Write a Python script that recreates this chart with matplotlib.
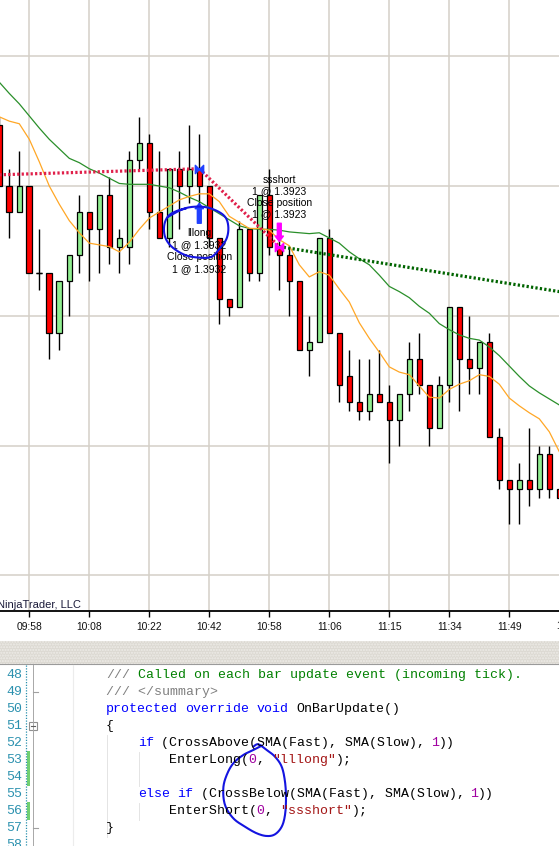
import numpy as np
import matplotlib
matplotlib.use("Agg")
import matplotlib.pyplot as plt
from matplotlib.patches import Rectangle
from matplotlib.path import Path
import matplotlib.transforms as mtransforms

W, H, DPI = 559, 846, 100

# ---------------- data ----------------
bar_index = list(range(57))
opens = [1.3937, 1.3930, 1.3927, 1.3930, 1.3920, 1.3920, 1.3913, 1.3919, 1.3922, 1.3927,
         1.3925, 1.3929, 1.3923, 1.3923, 1.3933, 1.3935, 1.3927, 1.3924, 1.3932, 1.3930,
         1.3932, 1.3930, 1.3924, 1.3917, 1.3916, 1.3925, 1.3920, 1.3929, 1.3923, 1.3922,
         1.3919, 1.3911, 1.3912, 1.3924, 1.3913, 1.3908, 1.3905, 1.3904, 1.3906, 1.3905,
         1.3903, 1.3906, 1.3910, 1.3907, 1.3902, 1.3907, 1.3916, 1.3910, 1.3909, 1.3912,
         1.3901, 1.3896, 1.3895, 1.3896, 1.3895, 1.3899, 1.3895]
highs = [1.3938, 1.3932, 1.3934, 1.3930, 1.3925, 1.3920, 1.3919, 1.3922, 1.3929, 1.3927,
         1.3929, 1.3931, 1.3925, 1.3934, 1.3938, 1.3936, 1.3934, 1.3932, 1.3934, 1.3937,
         1.3936, 1.3930, 1.3924, 1.3917, 1.3926, 1.3925, 1.3929, 1.3932, 1.3924, 1.3923,
         1.3919, 1.3915, 1.3924, 1.3925, 1.3913, 1.3911, 1.3910, 1.3910, 1.3911, 1.3907,
         1.3906, 1.3912, 1.3913, 1.3907, 1.3908, 1.3916, 1.3916, 1.3915, 1.3912, 1.3913,
         1.3902, 1.3896, 1.3898, 1.3902, 1.3900, 1.3900, 1.3895]
lows = [1.3930, 1.3924, 1.3927, 1.3920, 1.3918, 1.3910, 1.3911, 1.3915, 1.3920, 1.3919,
        1.3920, 1.3921, 1.3920, 1.3921, 1.3932, 1.3925, 1.3924, 1.3923, 1.3925, 1.3928,
        1.3928, 1.3923, 1.3914, 1.3915, 1.3916, 1.3919, 1.3919, 1.3922, 1.3918, 1.3915,
        1.3911, 1.3908, 1.3912, 1.3913, 1.3905, 1.3904, 1.3903, 1.3903, 1.3905, 1.3898,
        1.3900, 1.3904, 1.3906, 1.3900, 1.3902, 1.3905, 1.3904, 1.3906, 1.3906, 1.3901,
        1.3895, 1.3891, 1.3891, 1.3893, 1.3894, 1.3894, 1.3894]
closes = [1.3930, 1.3927, 1.3930, 1.3920, 1.3920, 1.3913, 1.3919, 1.3922, 1.3927, 1.3925,
          1.3929, 1.3923, 1.3924, 1.3933, 1.3935, 1.3927, 1.3924, 1.3932, 1.3930, 1.3932,
          1.3930, 1.3924, 1.3917, 1.3916, 1.3925, 1.3920, 1.3929, 1.3923, 1.3922, 1.3919,
          1.3911, 1.3912, 1.3924, 1.3913, 1.3907, 1.3905, 1.3904, 1.3906, 1.3905, 1.3903,
          1.3906, 1.3910, 1.3907, 1.3902, 1.3907, 1.3916, 1.3910, 1.3909, 1.3912, 1.3901,
          1.3896, 1.3895, 1.3896, 1.3895, 1.3899, 1.3895, 1.3894]
sma_fast = [1.39380, 1.39375, 1.39372, 1.39354, 1.39328, 1.39300, 1.39279, 1.39260, 1.39246, 1.39234,
            1.39232, 1.39230, 1.39224, 1.39235, 1.39250, 1.39263, 1.39270, 1.39277, 1.39284, 1.39288,
            1.39291, 1.39291, 1.39282, 1.39265, 1.39258, 1.39251, 1.39251, 1.39249, 1.39238, 1.39231,
            1.39209, 1.39195, 1.39201, 1.39197, 1.39181, 1.39166, 1.39142, 1.39124, 1.39108, 1.39091,
            1.39085, 1.39082, 1.39069, 1.39056, 1.39055, 1.39065, 1.39071, 1.39075, 1.39082, 1.39080,
            1.39071, 1.39055, 1.39046, 1.39038, 1.39031, 1.39016, 1.38993]
sma_slow = [1.39420, 1.39407, 1.39395, 1.39381, 1.39367, 1.39354, 1.39343, 1.39332, 1.39327, 1.39320,
            1.39315, 1.39309, 1.39303, 1.39302, 1.39302, 1.39302, 1.39300, 1.39298, 1.39293, 1.39287,
            1.39282, 1.39275, 1.39268, 1.39261, 1.39254, 1.39251, 1.39250, 1.39250, 1.39249, 1.39247,
            1.39246, 1.39245, 1.39246, 1.39240, 1.39234, 1.39224, 1.39216, 1.39209, 1.39197, 1.39184,
            1.39178, 1.39171, 1.39161, 1.39153, 1.39141, 1.39134, 1.39128, 1.39124, 1.39122, 1.39114,
            1.39104, 1.39092, 1.39080, 1.39069, 1.39061, 1.39054, 1.39047]
time_ticks = [3, 9, 15, 21, 27, 33, 39, 45, 51, 57]
time_labels = ["09:58", "10:08", "10:22", "10:42", "10:58", "11:06", "11:15", "11:34", "11:49", "12:04"]
price_grid = [1.3945, 1.3930, 1.3915, 1.3900, 1.3885]

prev_exit_x, prev_exit_y = [0, 20], [1.39313, 1.3932]
long_x, long_y = [20, 28], [1.3932, 1.3923]
short_x, short_y = [28, 56], [1.3923, 1.39178]
long_name, long_price, long_bar = "lllong", 1.3932, 20
short_name, short_price, short_bar = "ssshort", 1.3923, 28

# ---------------- figure ----------------
fig = plt.figure(figsize=(W / DPI, H / DPI), dpi=DPI)
fig.patch.set_facecolor("white")
CHART_BOTTOM = 611
ax = fig.add_axes([0, 1 - CHART_BOTTOM / H, 1, CHART_BOTTOM / H])
ax.set_facecolor("white")
ax.set_xlim(0.07, 55.97)
ax.set_ylim(1.388089, 1.39515)
for s in ["top", "left", "right"]:
    ax.spines[s].set_visible(False)
ax.spines["bottom"].set_color("black")
ax.spines["bottom"].set_linewidth(1.3)
ax.set_yticks([])
ax.set_xticks(time_ticks[:-1])
ax.set_xticklabels(time_labels[:-1], fontsize=7.4, family="Liberation Sans", color="#111111")
ax.tick_params(axis="x", length=4.3, width=1.0, direction="out", pad=3.5, colors="black")
for lbl in ax.get_xticklabels():
    lbl.set_color("#111111")

grid_c = "#d4d0c8"
for p in price_grid:
    ax.axhline(p, color=grid_c, lw=1.1, zorder=0)
for t in time_ticks:
    ax.axvline(t, color=grid_c, lw=1.1, zorder=0)

# extra (partially visible) last label, cut by the right edge as in the original screenshot
trans = mtransforms.blended_transform_factory(ax.transData, ax.transAxes)
ax.text(time_ticks[-1], -0.0245, time_labels[-1], transform=trans, ha="center", va="center",
        fontsize=7.4, family="Liberation Sans", color="#111111", clip_on=False)

# candles
x = np.array(bar_index, dtype=float)
o, h, l, c = map(np.array, (opens, highs, lows, closes))
ax.vlines(x, l, h, color="black", lw=1.0, zorder=2)
bottoms = np.minimum(o, c)
heights = np.abs(c - o)
cols = np.where(c > o, "#90ee90", "#ff0000")
bw = 0.56
ax.bar(x, heights, bottom=bottoms, width=bw, color=cols, edgecolor="black", linewidth=0.9, zorder=3)
doji = heights < 1e-9
ax.hlines(o[doji], x[doji] - bw / 2, x[doji] + bw / 2, color="black", lw=1.0, zorder=3)

# moving averages
ax.plot(x, sma_slow, color="#2a8f2a", lw=0.9, zorder=4)
ax.plot(x, sma_fast, color="#ffa726", lw=0.9, zorder=4)

# trade lines
dots = (0, (0.7, 0.7))
ax.plot(prev_exit_x, prev_exit_y, color="#e0204a", lw=2.3, ls=dots, zorder=5)
ax.plot(long_x, long_y, color="#e0204a", lw=2.3, ls=dots, zorder=5)
ax.plot(short_x, short_y, color="#006400", lw=2.3, ls=dots, zorder=5)

# markers
bowtie = Path([(-1, -1), (-1, 1), (1, -1), (1, 1), (-1, -1)],
              [Path.MOVETO, Path.LINETO, Path.LINETO, Path.LINETO, Path.CLOSEPOLY])
blue = "#2040ff"
mag = "#ff00ff"
ax.plot(long_bar, long_price, marker=bowtie, ms=6, color=blue, mec=blue, zorder=7)
ax.plot(short_bar, short_price, marker=bowtie, ms=6, color=mag, mec=mag, zorder=7)

arrow_style = "simple,head_length=0.55,head_width=0.85,tail_width=0.4"
ax.annotate("", xy=(long_bar, 1.39280), xytext=(long_bar, 1.39257),
            arrowprops=dict(arrowstyle=arrow_style, fc=blue, ec=blue, mutation_scale=7,
                            shrinkA=0, shrinkB=0), zorder=7)
ax.annotate("", xy=(short_bar, 1.39236), xytext=(short_bar, 1.39257),
            arrowprops=dict(arrowstyle=arrow_style, fc=mag, ec=mag, mutation_scale=7,
                            shrinkA=0, shrinkB=0), zorder=7)

tfont = dict(fontsize=7.5, family="Liberation Sans", color="black", ha="center", va="center", zorder=8)
long_lines = [long_name, f"1 @ {long_price:.4f}", "Close position", f"1 @ {long_price:.4f}"]
for txt, dy in zip(long_lines, [-64, -76, -88, -100]):
    ax.annotate(txt, xy=(long_bar, long_price), xytext=(0, dy), textcoords="offset pixels", **tfont)
short_lines = [short_name, f"1 @ {short_price:.4f}", "Close position", f"1 @ {short_price:.4f}"]
for txt, dy in zip(short_lines, [67, 55, 44, 32]):
    ax.annotate(txt, xy=(short_bar, short_price), xytext=(0, dy), textcoords="offset pixels", **tfont)

# ---------------- overlay (pixel coordinates) ----------------
ov = fig.add_axes([0, 0, 1, 1])
ov.set_xlim(0, W)
ov.set_ylim(H, 0)
ov.axis("off")
ov.patch.set_visible(False)
ov.set_zorder(10)

ov.text(81, 605, "NinjaTrader, LLC", ha="right", va="center", fontsize=8.0,
        family="Liberation Sans", color="#1b1b3a")

# splitter
ov.add_patch(Rectangle((0, 641), W, 23, fc="#dcd9d2", ec="none"))
ov.add_patch(Rectangle((0, 641), W, 23, fc="none", ec="#eeece8", hatch="......", lw=0))
ov.plot([0, W], [664.5, 664.5], color="#9a9a9a", lw=0.8)

# code editor
LN0, LSTEP, CX, CW = 675, 17.05, 106, 7.92
gray, green, kblue, kw, num, strc, lnc = "#808080", "#008000", "#0000ff", "#000000", "#a000a0", "#a31515", "#2b91af"
code_lines = {
    48: [("///", gray), (" Called on each bar update event (incoming tick).", green)],
    49: [("/// </summary>", gray)],
    50: [("protected", kblue), (" ", kw), ("override", kblue), (" ", kw), ("void", kblue), (" OnBarUpdate()", kw)],
    51: [("{", kw)],
    52: [("    ", kw), ("if", kblue), (" (CrossAbove(SMA(Fast), SMA(Slow), ", kw), ("1", num), ("))", kw)],
    53: [("        EnterLong(", kw), ("0", num), (", ", kw), ('"lllong"', strc), (");", kw)],
    54: [],
    55: [("    ", kw), ("else", kblue), (" ", kw), ("if", kblue),
         (" (CrossBelow(SMA(Fast), SMA(Slow), ", kw), ("1", num), ("))", kw)],
    56: [("        EnterShort(", kw), ("0", num), (", ", kw), ('"ssshort"', strc), (");", kw)],
    57: [("}", kw)],
    58: [],
}
mono = dict(family="Liberation Mono", fontsize=9.5, va="center", ha="left")
for ln, segs in code_lines.items():
    y = LN0 + (ln - 48) * LSTEP
    ov.text(22, y, str(ln), color=lnc, family="Liberation Mono", fontsize=9.5, va="center", ha="right")
    col = 0
    for txt, cc in segs:
        stripped = txt.strip(" ")
        if stripped:
            lead = len(txt) - len(txt.lstrip(" "))
            ov.text(CX + (col + lead) * CW, y, stripped, color=cc, **mono)
        col += len(txt)

# gutter decorations
ov.plot([26, 26], [665, H], color=lnc, lw=0.9, ls=(0, (1, 1.2)))
for y0, y1 in [(751.5, 786), (802.5, 820)]:
    ov.add_patch(Rectangle((27.2, y0), 2.6, y1 - y0, fc="#72d072", ec="none"))
ov.plot([32.5, 32.5], [665, H], color="#a8a8a8", lw=0.7)
for ln in (49, 57):
    y = LN0 + (ln - 48) * LSTEP
    ov.plot([32.5, 37.5], [y, y], color="#a0a0a0", lw=0.8)
yb = LN0 + 3 * LSTEP
ov.add_patch(Rectangle((29.3, yb - 3.8), 7.2, 7.6, fc="white", ec="#909090", lw=0.8))
ov.plot([31, 35], [yb, yb], color="#606060", lw=0.8)
ov.plot([73, 73], [665, H], color="#ececec", lw=0.8)
ov.plot([107, 107], [LN0 + 3.5 * LSTEP, LN0 + 9.5 * LSTEP], color="#e4e4e4", lw=0.7)
ov.plot([138.5, 138.5], [LN0 + 4.5 * LSTEP, LN0 + 6.5 * LSTEP], color="#e4e4e4", lw=0.7)
ov.plot([138.5, 138.5], [LN0 + 7.5 * LSTEP, LN0 + 8.5 * LSTEP], color="#e4e4e4", lw=0.7)


def catmull(pts, n=10):
    P = np.array(pts, float)
    P = np.vstack([P[0], P, P[-1]])
    out = []
    t = np.linspace(0, 1, n, endpoint=False)[:, None]
    for i in range(1, len(P) - 2):
        p0, p1, p2, p3 = P[i - 1], P[i], P[i + 1], P[i + 2]
        out.append(0.5 * ((2 * p1) + (-p0 + p2) * t + (2 * p0 - 5 * p1 + 4 * p2 - p3) * t ** 2
                          + (-p0 + 3 * p1 - 3 * p2 + p3) * t ** 3))
    out.append(P[-2][None, :])
    return np.vstack(out)


pen = "#1414e0"
loop1 = [(168.3, 216.7), (185, 208.3), (201.7, 206.7), (215, 210), (225, 216.7), (228.3, 226.7),
         (226.7, 238.3), (220, 248.3), (211.7, 256.7), (200, 257.7), (185, 255), (171.7, 246.7),
         (165, 236.7), (164.3, 225), (168.3, 216), (176.7, 211), (186, 208.5)]
s1 = catmull(loop1)
ov.plot(s1[:, 0], s1[:, 1], color=pen, lw=1.5, solid_capstyle="round")
loop2 = [(253.3, 746.7), (258.3, 744.3), (266.7, 750), (275, 756.7), (281.7, 766.7), (285, 781.7),
         (286, 798.3), (285, 815), (281.7, 826.7), (275, 834.3), (266.7, 836), (256.7, 833.3),
         (245, 826.7), (233.3, 818.3), (225, 805), (223.3, 788.3), (226.7, 775), (233.3, 763.3),
         (243.3, 755), (253.3, 750), (261.7, 745.7)]
s2 = catmull(loop2)
ov.plot(s2[:, 0], s2[:, 1], color=pen, lw=1.5, solid_capstyle="round")

fig.savefig("out.png", dpi=DPI, facecolor="white")
